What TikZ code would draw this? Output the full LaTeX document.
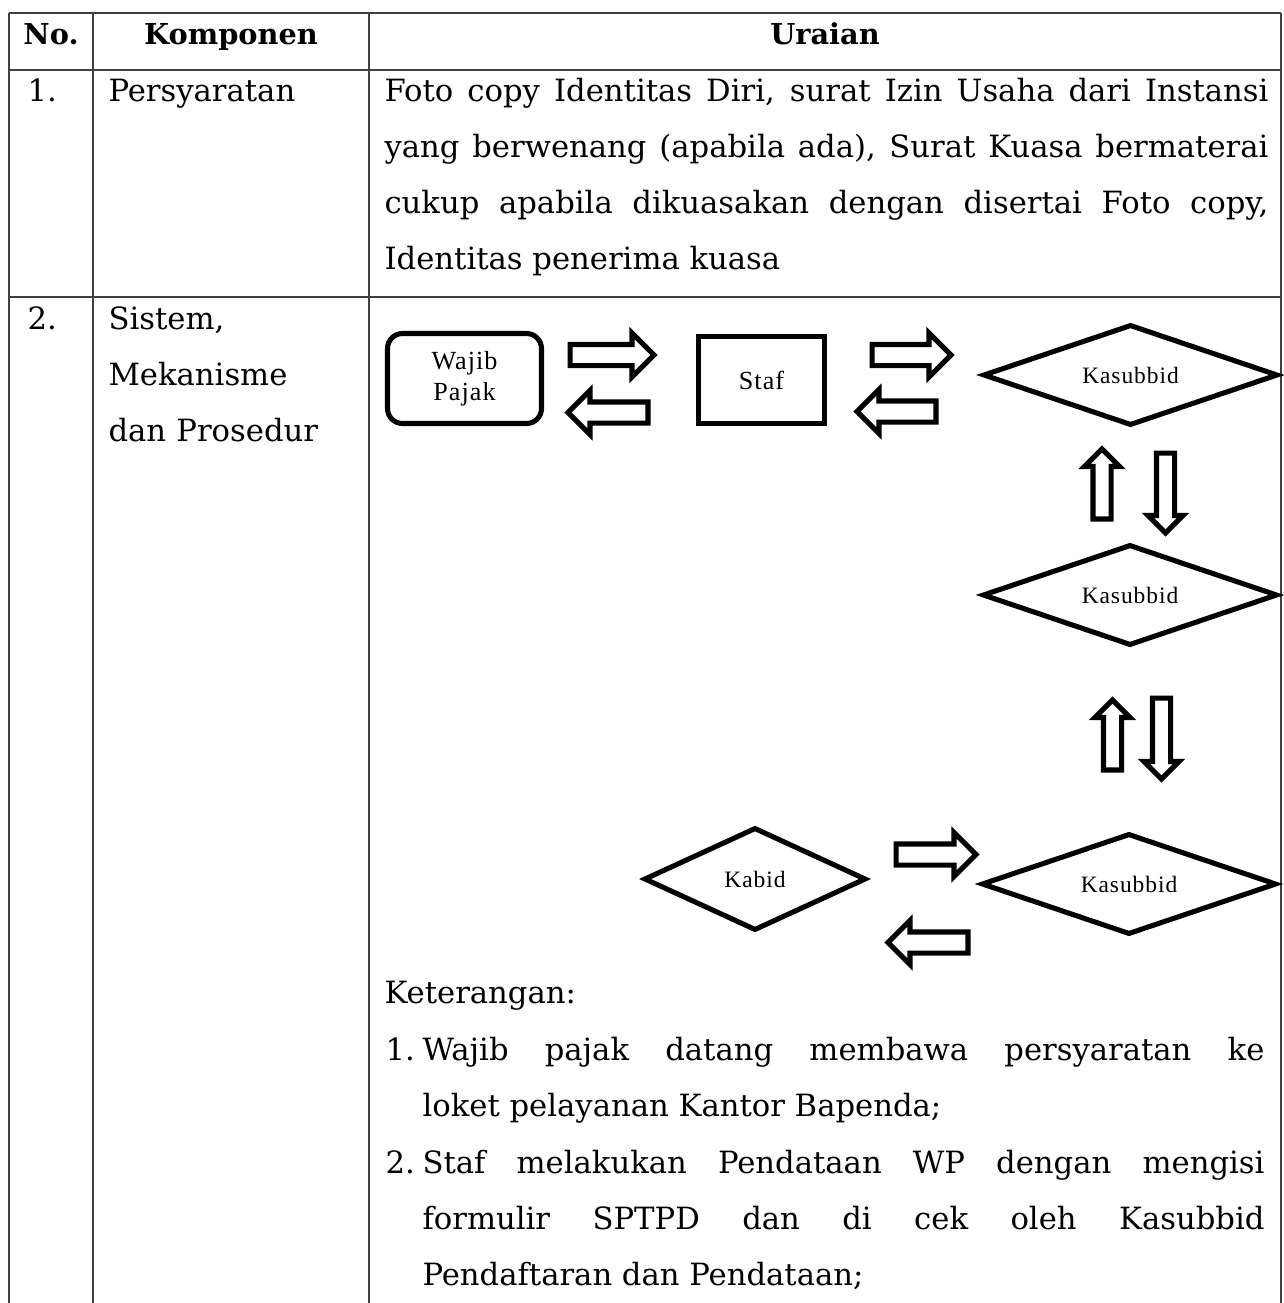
\documentclass[tikz,border=0pt]{standalone}
\usepackage{fontspec}
\setmainfont{DejaVu Serif}
\newfontfamily\diafont[LetterSpace=4]{Liberation Serif}
\usetikzlibrary{shapes.geometric,shapes.arrows}
\hyphenpenalty=10000
\newcommand{\px}{0.375pt}
\tikzset{
  tline/.style={line width=0.5pt, black!75},
  cell/.style={anchor=base west, inner sep=0pt, font=\fontsize{11.5}{21}\selectfont},
  hdr/.style={anchor=base, inner sep=0pt, font=\fontsize{10.8}{21}\selectfont\bfseries},
  para/.style={cell, align=justify},
  box/.style={draw, line width=1.9pt, inner sep=0pt, align=center, font=\diafont\fontsize{9.8}{11.6}\selectfont},
  kas/.style={diamond, draw, aspect=2.9, line width=1.9pt, inner sep=0pt, font=\diafont\fontsize{8.8}{10}\selectfont},
  blk/.style={single arrow, draw, line width=1.9pt, anchor=tail, inner xsep=0pt, minimum width=0pt, single arrow head indent=0pt},
  harr/.style={blk, inner ysep=8*\px, single arrow head extend=11.5*\px},
  varr/.style={blk, inner ysep=6.5*\px, single arrow head extend=8.5*\px}
}
\begin{document}
\begin{tikzpicture}[x=0.375pt,y=-0.375pt]
\useasboundingbox (0,0) rectangle (1283,1303);
% table rules
\draw[tline] (9,13) -- (1281,13);
\draw[tline] (9,70) -- (1281,70);
\draw[tline] (9,297) -- (1281,297);
\foreach \x in {9,93,369,1281}
  \draw[tline] (\x,13) -- (\x,1303);

% header and row 1
\node[hdr] (hno) at (51,44) {No.};
\node[hdr] (hkomp) at (231,44) {Komponen};
\node[hdr] (hurai) at (825,44) {Uraian};
\node[cell] (no1) at (27,101) {1.};
\node[cell] (komp1) at (108,101) {Persyaratan};
\node[para, text width=884*\px] (urai1) at (384,101) {Foto copy Identitas Diri, surat Izin Usaha dari Instansi\linebreak
  yang berwenang (apabila ada), Surat Kuasa bermaterai\linebreak
  cukup apabila dikuasakan dengan disertai Foto copy,\linebreak
  Identitas penerima kuasa};

% row 2
\node[cell] (no2) at (27,329) {2.};
\node[cell, text width=250*\px, align=left] (komp2) at (108,329) {Sistem,\\Mekanisme\\dan Prosedur};

% flow
\node[box, rounded corners=15*\px, minimum width=154*\px, minimum height=90*\px] (wp) at (464.5,378.5) {Wajib\\Pajak};
\node[box, minimum width=126*\px, minimum height=87*\px] (staf) at (761.5,380) {Staf};
\node[kas, minimum width=295*\px, minimum height=101*\px] (ksb1) at (1130.5,375) {Kasubbid};
\node[kas, minimum width=295*\px, minimum height=101*\px] (ksb2) at (1130,595) {Kasubbid};
\node[kas, minimum width=295*\px, minimum height=101*\px] (ksb3) at (1129,884) {Kasubbid};
\node[kas, minimum width=222*\px, minimum height=103*\px] (kabid) at (755,879) {Kabid};

\node[harr, minimum height=84*\px] (wp-staf) at (567.5,355) {};
\node[harr, minimum height=80*\px, rotate=180] (staf-wp) at (650.5,412.5) {};
\node[harr, minimum height=79*\px] (staf-ksb) at (869.5,355) {};
\node[harr, minimum height=79*\px, rotate=180] (ksb-staf) at (938.5,411.5) {};
\node[varr, minimum height=70*\px, rotate=90] (ksb2-ksb1) at (1102,521.5) {};
\node[varr, minimum height=80*\px, rotate=-90] (ksb1-ksb2) at (1165.5,450.5) {};
\node[varr, minimum height=70*\px, rotate=90] (ksb3-ksb2) at (1112.5,772.5) {};
\node[varr, minimum height=81*\px, rotate=-90] (ksb2-ksb3) at (1161.5,695.5) {};
\node[harr, minimum height=80*\px] (kabid-ksb) at (893.5,854.5) {};
\node[harr, minimum height=80*\px, rotate=180] (ksb-kabid) at (970.5,942.5) {};

% keterangan
\node[cell] (ket) at (384,1003) {Keterangan:};
\node[cell] (ket1) at (385,1060) {1.};
\node[para, text width=842*\px] (ket1t) at (422,1060) {Wajib pajak datang membawa persyaratan ke\linebreak
  loket pelayanan Kantor Bapenda;};
\node[cell] (ket2) at (385,1173) {2.};
\node[para, text width=842*\px] (ket2t) at (422,1173) {Staf melakukan Pendataan WP dengan mengisi\linebreak
  formulir SPTPD dan di cek oleh Kasubbid\linebreak
  Pendaftaran dan Pendataan;};
\end{tikzpicture}
\end{document}
